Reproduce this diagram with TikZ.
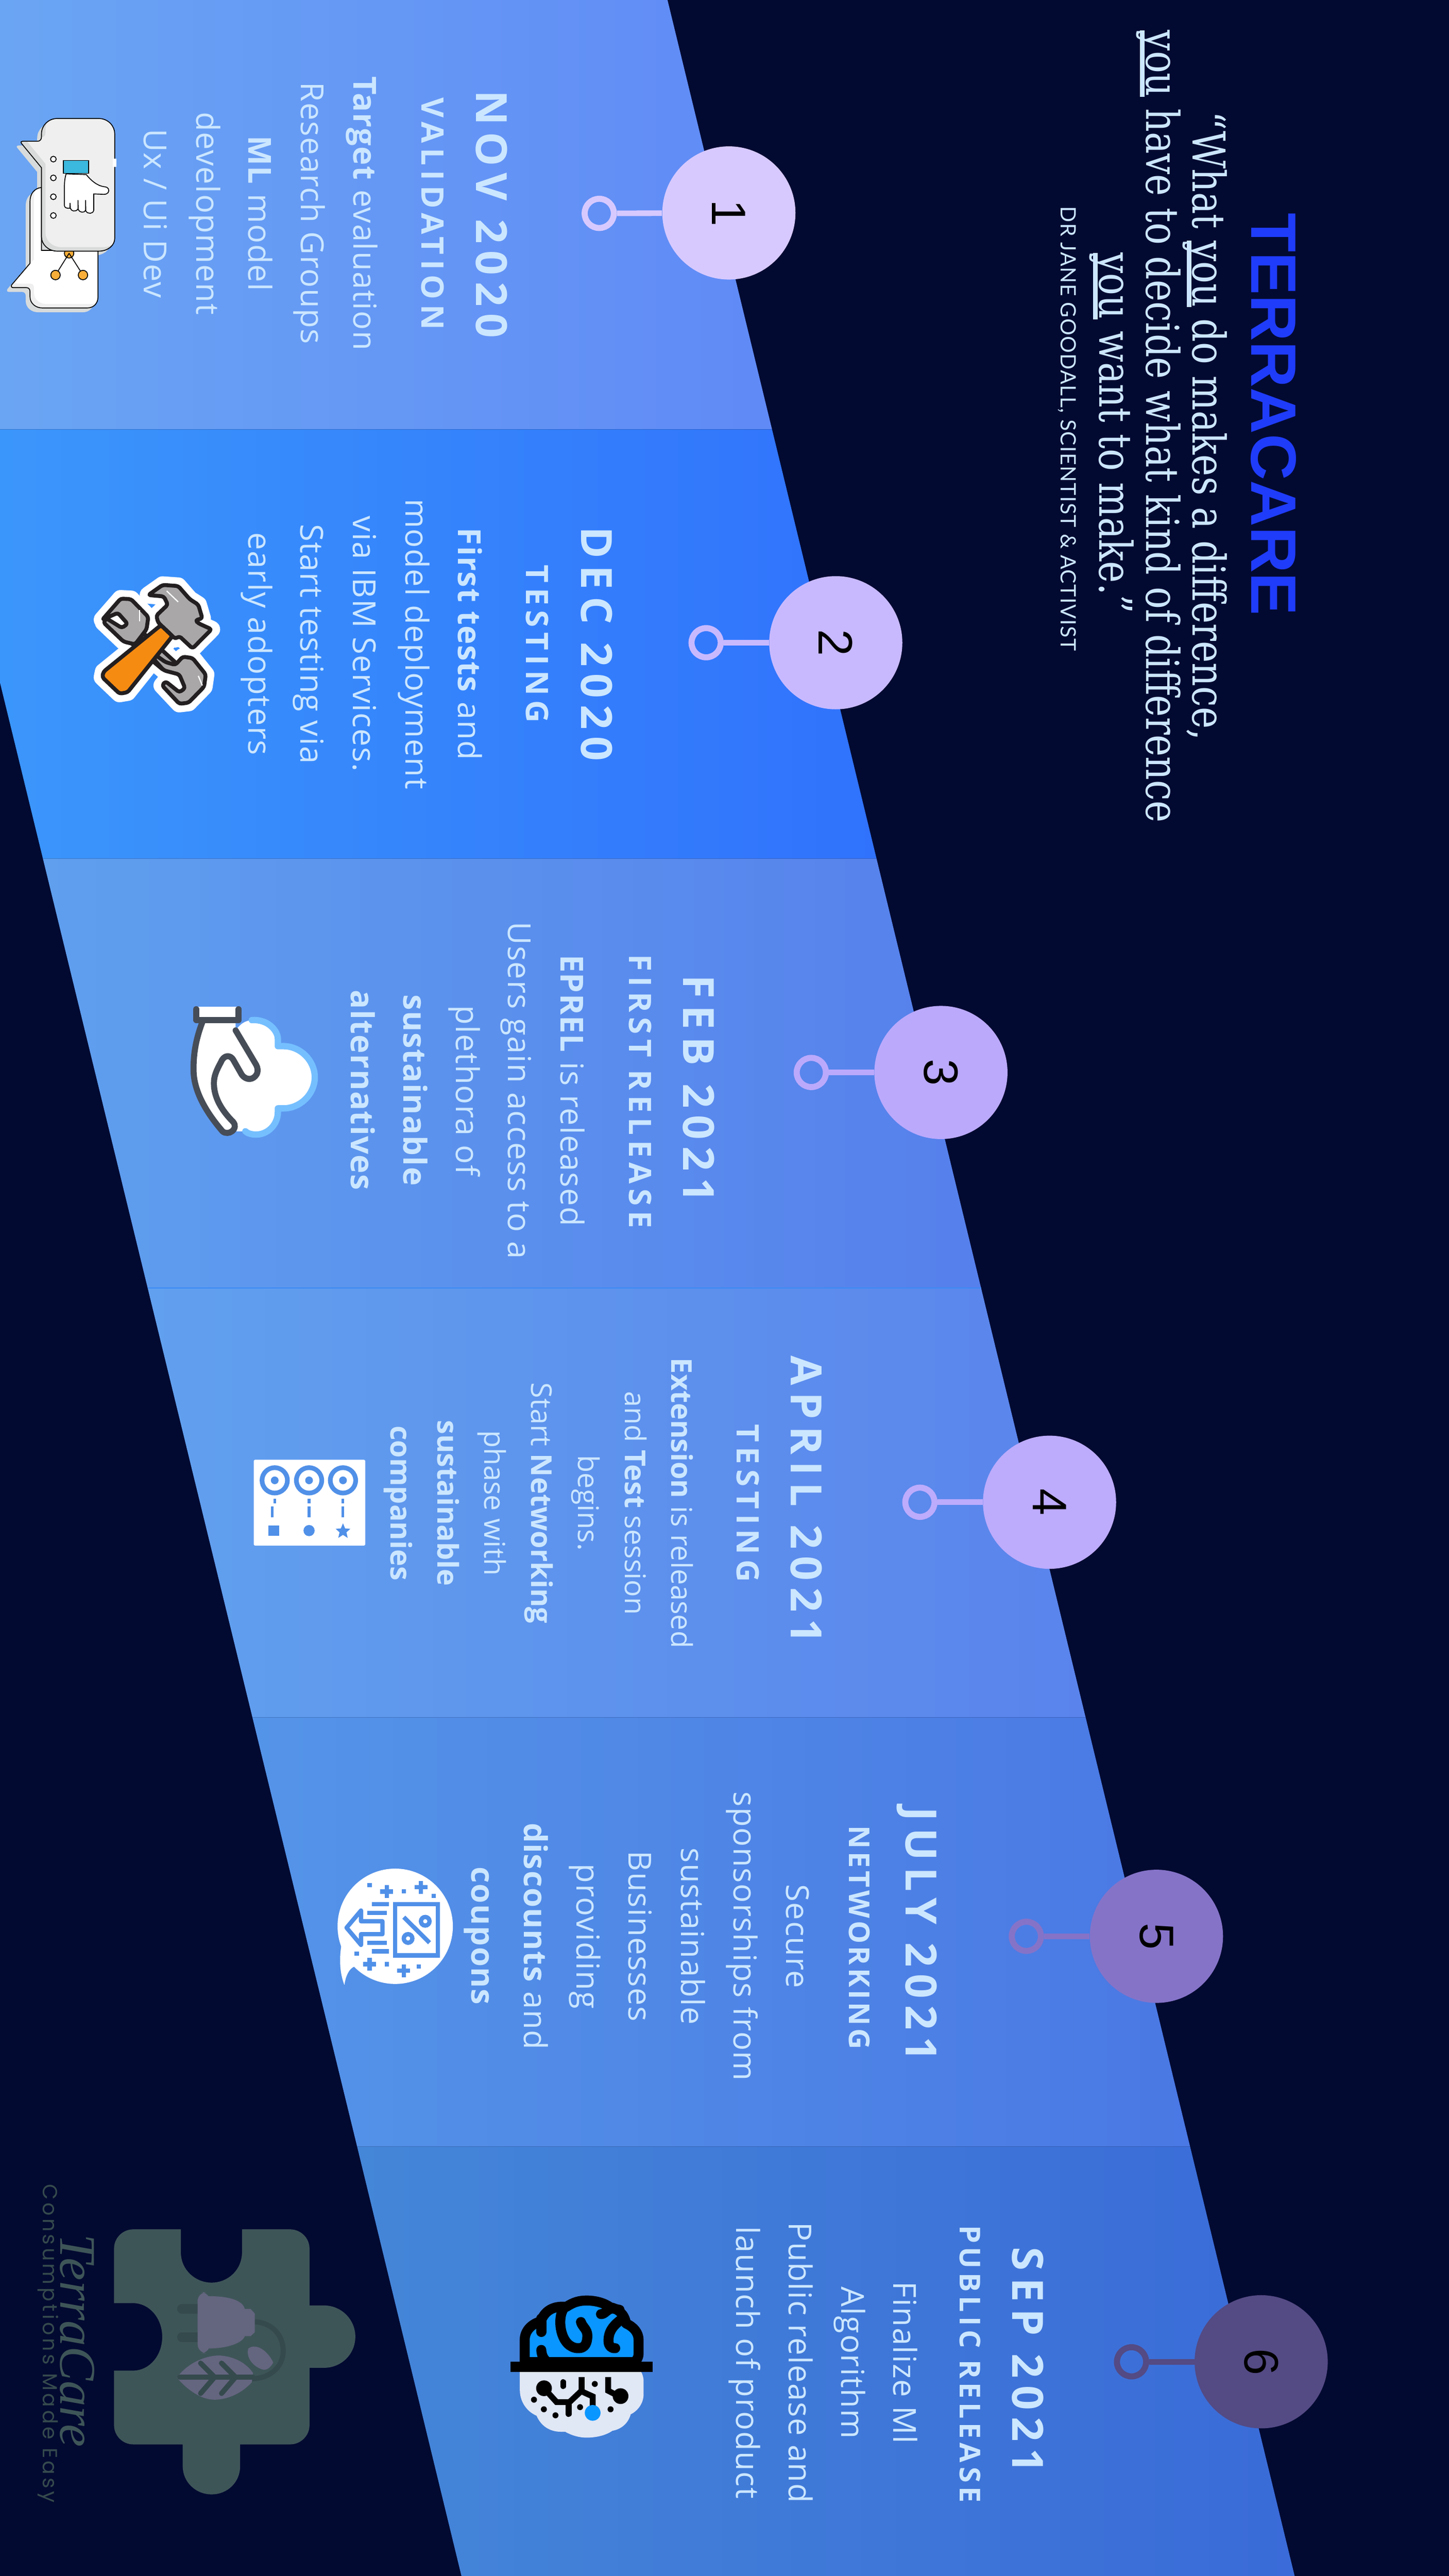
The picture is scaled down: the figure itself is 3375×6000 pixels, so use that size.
\documentclass[tikz,border=0pt]{standalone}
\usepackage{fontspec}
\usepackage{xcolor}
\usetikzlibrary{positioning}
\setmainfont[LetterSpace=2.5]{Open Sans}
\newfontfamily\tightfont{Open Sans}
\newfontfamily\datefont[LetterSpace=16]{Open Sans}
\newfontfamily\netfont[LetterSpace=10]{Open Sans}
\newfontfamily\publicfont[LetterSpace=14]{Open Sans}
\newfontfamily\quotefont[FakeStretch=0.81]{DejaVu Serif}
\newfontfamily\titlefont{Liberation Sans}
\newfontfamily\creditfont[LetterSpace=3.5]{Lato}
\newfontfamily\brandfont[LetterSpace=14]{Poppins}
\newfontfamily\signfont{Liberation Serif}
\definecolor{night}{HTML}{030A31}
\definecolor{pale}{HTML}{CBE6FF}
\definecolor{stopa}{HTML}{D7C9FE}
\definecolor{stopb}{HTML}{C8B9FE}
\definecolor{stopc}{HTML}{BBA9FC}
\definecolor{stopd}{HTML}{BDABFC}
\definecolor{stope}{HTML}{8573C8}
\definecolor{stopf}{HTML}{544A84}
\definecolor{puzzle}{HTML}{3E5558}
\definecolor{puzzledark}{HTML}{354A4D}
\definecolor{plug}{HTML}{64657F}
\definecolor{iconblue}{HTML}{5090E8}
\definecolor{toolgrey}{HTML}{A9A7A8}
\definecolor{tooldark}{HTML}{231F20}
\definecolor{handdark}{HTML}{474D57}
\definecolor{brainblue}{HTML}{0A96FF}
\tikzset{
  stopcircle/.style={circle,minimum size=3.1cm,inner sep=0pt,rotate=-90,text=black,font=\titlefont\fontsize{32}{32}\selectfont},
  ringnode/.style={circle,minimum size=0.68cm,inner sep=0pt,line width=4pt,draw},
  stem/.style={line width=3.7pt},
  datelabel/.style={rotate=-90,text=pale,font=\datefont\bfseries\fontsize{28.5}{30}\selectfont},
  phaselabel/.style={rotate=-90,text=pale,font=\datefont\bfseries\fontsize{20.5}{22}\selectfont},
  netlabel/.style={rotate=-90,text=pale,font=\netfont\bfseries\fontsize{19}{21}\selectfont},
  publiclabel/.style={rotate=-90,text=pale,font=\publicfont\bfseries\fontsize{19}{21}\selectfont},
  notelabel/.style={rotate=-90,text=pale,align=center,font=\fontsize{21}{34.7}\selectfont},
  tightnote/.style={rotate=-90,text=pale,align=center,font=\tightfont\fontsize{19}{31}\selectfont},
  quoteline/.style={rotate=-90,anchor=base,text=pale,font=\quotefont\fontsize{30}{32}\selectfont},
  toolpiece/.style={fill=toolgrey,draw=tooldark,line width=2.6pt,rounded corners=1.5pt,line join=round},
  toolhalo/.style={fill=white,draw=white,line width=11.4pt,line join=round},
  darkstroke/.style={draw=handdark,line width=4pt,line cap=round,line join=round},
  blackline/.style={draw=black,line width=0.57pt},
  brainstroke/.style={draw=black,line width=6.6pt,line cap=round,line join=round},
  circuit/.style={draw=black,line width=3.9pt},
  iconline/.style={draw=iconblue,line width=2.85pt},
  veinline/.style={draw=puzzledark,line width=3.4pt,line cap=round}
}
\newcommand{\youmark}[1]{\setbox0=\hbox{#1}\rlap{\raisebox{-4.2pt}{\rule{\wd0}{3.1pt}}}\box0\relax}
\newcommand{\smallbubble}{(290,620) .. controls (240,625) and (210,665) .. (210,715) -- (210,1150) -- (82,1300) .. controls (75,1312) and (82,1320) .. (92,1320) -- (185,1320) .. controls (200,1320) and (210,1330) .. (210,1350) -- (210,1385) .. controls (210,1430) and (250,1462) .. (295,1462) -- (610,1462) .. controls (655,1462) and (685,1430) .. (685,1385) -- (685,1060) -- (290,1060) -- cycle}
\newcommand{\bigbubble}{(400,138) -- (690,138) .. controls (755,138) and (802,190) .. (802,245) -- (802,975) .. controls (802,1025) and (755,1065) .. (690,1065) -- (400,1065) .. controls (340,1065) and (290,1020) .. (290,965) -- (290,482) -- (150,312) .. controls (143,302) and (150,297) .. (158,297) -- (262,297) .. controls (280,297) and (290,285) .. (290,265) -- (290,245) .. controls (290,185) and (340,138) .. (400,138) -- cycle}
\newcommand{\toolhead}{(258,605) -- (283,568) -- (310,572) -- (330,620) -- (345,640) -- (352,690) -- (340,697) -- (345,708) -- (368,730) -- (335,800) -- (312,755) -- (305,765) -- (275,705) -- (272,680) -- (292,640) -- (285,610) -- cycle}
\newcommand{\toolupper}{(178,695) -- (210,618) -- (228,620) -- (258,685) -- (255,730) -- (235,785) -- (215,775) -- (180,705) -- (185,690) -- (212,725) -- (222,710) -- (205,670) -- cycle}
\newcommand{\toollower}{(268,820) -- (288,850) -- (305,860) -- (318,830) -- (335,835) -- (358,895) -- (355,940) -- (328,998) -- (312,1002) -- (282,935) -- (288,920) -- (312,960) -- (322,945) -- (312,895) -- (285,880) -- (268,840) -- cycle}
\newcommand{\toolshaft}{(225,775) -- (250,745) -- (310,860) -- (285,880) -- cycle}
\newcommand{\toolhandle}{(280,715) -- (300,755) -- (222,960) -- (208,965) -- (178,905) -- (180,885) -- cycle}
\begin{document}
\begin{tikzpicture}[x=0.01cm,y=-0.01cm]
\useasboundingbox (0,0) rectangle (3375,6000);
\fill[night] (0,0) rectangle (3375,6000);
\shade[left color={rgb,255:red,106;green,165;blue,243},right color={rgb,255:red,96;green,138;blue,246}] (0,0) -- (1555,0) -- (1798.5,1000) -- (0,1000) -- cycle;
\shade[left color={rgb,255:red,59;green,150;blue,251},right color={rgb,255:red,48;green,114;blue,252}] (0,1000) -- (1798.5,1000) -- (2042,2000) -- (100,2000) -- (0,1590) -- cycle;
\shade[left color={rgb,255:red,95;green,159;blue,238},right color={rgb,255:red,86;green,128;blue,236}] (100,2000) -- (2042,2000) -- (2285.5,3000) -- (344,3000) -- cycle;
\shade[left color={rgb,255:red,97;green,160;blue,238},right color={rgb,255:red,90;green,132;blue,236}] (344,3000) -- (2285.5,3000) -- (2529,4000) -- (588,4000) -- cycle;
\shade[left color={rgb,255:red,84;green,148;blue,232},right color={rgb,255:red,74;green,120;blue,228}] (588,4000) -- (2529,4000) -- (2772.5,5000) -- (832,5000) -- cycle;
\shade[left color={rgb,255:red,68;green,134;blue,216},right color={rgb,255:red,58;green,107;blue,216}] (832,5000) -- (2772.5,5000) -- (3016,6000) -- (1075,6000) -- cycle;
\draw[color={rgb,255:red,58;green,138;blue,245},line width=1pt] (344,3000) -- (2285.5,3000);

\node[rotate=-90,text={rgb,255:red,31;green,60;blue,250},font=\titlefont\bfseries\fontsize{42.5}{45}\selectfont] (title) at (2967,965) {TERRACARE};
\node[quoteline] (quotea) at (2779,992) {“What \youmark{you} do makes a difference,};
\node[quoteline] (quoteb) at (2670,993) {\youmark{you} have to decide what kind of difference};
\node[quoteline] (quotec) at (2561,1009) {\youmark{you} want to make.”};
\node[rotate=-90,text=pale,font=\creditfont\fontsize{14}{16}\selectfont] (credit) at (2486,998) {DR JANE GOODALL, SCIENTIST \& ACTIVIST};

\node[stopcircle,fill=stopa] (stop1) at (1698,496) {1};
\node[stopcircle,fill=stopb] (stop2) at (1947,1497) {2};
\node[stopcircle,fill=stopc] (stop3) at (2192,2498) {3};
\node[stopcircle,fill=stopd] (stop4) at (2445,3499) {4};
\node[stopcircle,fill=stope] (stop5) at (2694,4510) {5};
\node[stopcircle,fill=stopf] (stop6) at (2938,5501) {6};
\node[ringnode,draw=stopa] (ring1) at (1396,497) {};
\node[ringnode,draw=stopb] (ring2) at (1645,1497) {};
\node[ringnode,draw=stopc] (ring3) at (1890,2498) {};
\node[ringnode,draw=stopd] (ring4) at (2143,3499) {};
\node[ringnode,draw=stope] (ring5) at (2391,4510) {};
\node[ringnode,draw=stopf] (ring6) at (2636,5501) {};
\draw[stem,stopa] (ring1) -- (stop1);
\draw[stem,stopb] (ring2) -- (stop2);
\draw[stem,stopc] (ring3) -- (stop3);
\draw[stem,stopd] (ring4) -- (stop4);
\draw[stem,stope] (ring5) -- (stop5);
\draw[stem,stopf] (ring6) -- (stop6);

\node[datelabel] (date1) at (1145,499) {NOV 2020};
\node[phaselabel] (phase1) at (1008,498) {VALIDATION};
\node[notelabel] (note1) at (607,497) {\textbf{Target} evaluation\\Research Groups\\\textbf{ML} model\\development\\Ux / Ui Dev};
\node[datelabel] (date2) at (1390,1500) {DEC 2020};
\node[phaselabel] (phase2) at (1252,1500) {TESTING};
\node[notelabel] (note2) at (842,1500) {\textbf{First tests} and\\model deployment\\via IBM Services.\\Start testing via\\early adopters};
\node[datelabel] (date3) at (1628,2536) {FEB 2021};
\node[phaselabel] (phase3) at (1492,2542) {FIRST RELEASE};
\node[notelabel] (note3) at (1090,2540) {\textbf{EPREL} is released\\Users gain access to a\\plethora of\\\textbf{sustainable}\\\textbf{alternatives}};
\node[datelabel] (date4) at (1879,3493) {APRIL 2021};
\node[phaselabel] (phase4) at (1742,3501) {TESTING};
\node[tightnote] (note4) at (1255,3501) {\textbf{Extension} is released\\and \textbf{Test} session\\begins.\\Start \textbf{Networking}\\phase with\\\textbf{sustainable}\\\textbf{companies}};
\node[datelabel] (date5) at (2136,4505) {JULY 2021};
\node[netlabel] (phase5) at (2002,4513) {NETWORKING};
\node[notelabel] (note5) at (1483,4510) {Secure\\sponsorships from\\sustainable\\Businesses\\providing\\\textbf{discounts} and\\\textbf{coupons}};
\node[datelabel] (date6) at (2394,5497) {SEP 2021};
\node[publiclabel] (phase6) at (2260,5506) {PUBLIC RELEASE};
\node[notelabel] (note6) at (1918,5503) {Finalize Ml\\Algorithm\\Public release and\\launch of product};

\begin{scope}[shift={(0,230)},scale=0.3333]
\fill[shift={(-30,30)},color={rgb,255:red,216;green,219;blue,219}] \smallbubble;
\fill[shift={(-30,30)},color={rgb,255:red,216;green,219;blue,219}] \bigbubble;
\begin{scope}
\clip \smallbubble;
\fill[color={rgb,255:red,239;green,239;blue,239}] \smallbubble;
\fill[white,shift={(28,-28)}] \smallbubble;
\end{scope}
\draw[black,line width=0.57pt] \smallbubble;
\draw[blackline,fill={rgb,255:red,248;green,174;blue,56}] (483,1080) circle (33);
\draw[blackline] (483,1080) -- (388,1232);
\draw[blackline] (483,1080) -- (580,1232);
\draw[blackline,fill={rgb,255:red,248;green,174;blue,56}] (388,1232) circle (33);
\draw[blackline,fill={rgb,255:red,248;green,174;blue,56}] (580,1232) circle (33);
\begin{scope}
\clip \bigbubble;
\fill[color={rgb,255:red,217;green,218;blue,218}] \bigbubble;
\fill[color={rgb,255:red,239;green,239;blue,239},shift={(28,-28)}] \bigbubble;
\end{scope}
\draw[black,line width=0.57pt] \bigbubble;
\fill[white] (790,420) rectangle (812,475);
\draw[blackline,fill=white] (373,422) circle (20);
\draw[blackline,fill=white] (373,553) circle (20);
\draw[blackline,fill=white] (373,685) circle (20);
\draw[blackline,fill=white] (373,816) circle (20);
\draw[blackline,fill=white] (462,525) .. controls (452,560) and (450,590) .. (450,620) -- (450,745) .. controls (450,760) and (465,768) .. (488,765) -- (490,728) -- (492,765) .. controls (495,785) and (530,795) .. (545,770) -- (545,708) -- (547,775) .. controls (555,795) and (590,800) .. (598,780) -- (598,708) -- (600,785) .. controls (615,808) and (650,805) .. (655,780) -- (655,665) -- (725,668) .. controls (755,668) and (765,650) .. (758,630) .. controls (755,622) and (745,617) .. (730,615) .. controls (680,610) and (635,570) .. (603,530) -- cycle;
\draw[blackline,fill={rgb,255:red,60;green,185;blue,222}] (442,432) rectangle (620,522);
\end{scope}

\begin{scope}[shift={(0,1000)},xscale=1.339,yscale=0.638]
\path[toolhalo] \toolhead;
\path[toolhalo] \toolupper;
\path[toolhalo] \toollower;
\path[toolhalo] \toolshaft;
\path[toolhalo] \toolhandle;
\path[toolpiece] \toolshaft;
\path[toolpiece] \toolhead;
\path[toolpiece] \toolupper;
\path[toolpiece] \toollower;
\path[toolpiece,fill={rgb,255:red,246;green,139;blue,18}] \toolhandle;
\draw[white,line width=0.8pt] (290,590) -- (310,630);
\draw[white,line width=0.8pt] (243,660) -- (243,700);
\draw[white,line width=0.8pt] (345,900) -- (352,935);
\end{scope}

\begin{scope}[shift={(400,2300)},scale=0.3333]
\fill[white] (447,300) .. controls (490,240) and (530,225) .. (590,228) .. controls (670,232) and (742,300) .. (742,360) -- (742,410) -- (780,410) .. controls (900,410) and (1000,510) .. (1000,628) .. controls (1000,745) and (900,845) .. (780,845) -- (742,845) -- (742,870) .. controls (742,960) and (670,1028) .. (590,1028) .. controls (560,1028) and (530,1020) .. (515,1005) -- (355,1005) .. controls (230,860) and (158,720) .. (153,590) .. controls (150,480) and (165,370) .. (215,240) -- (447,240) -- cycle;
\draw[color={rgb,255:red,117;green,191;blue,255},line width=4.2pt,line cap=round,line join=round] (560,228) .. controls (670,220) and (742,300) .. (742,360) -- (742,410) -- (780,410) .. controls (900,410) and (1000,510) .. (1000,628) .. controls (1000,745) and (900,845) .. (780,845) -- (742,845) -- (742,870) .. controls (742,960) and (670,1028) .. (590,1028) .. controls (560,1028) and (530,1020) .. (515,1005);
\fill[white] (172,133) rectangle (470,225);
\path[darkstroke] (172,152) -- (172,227) -- (468,227) -- (468,152);
\path[darkstroke] (215,240) .. controls (165,370) and (150,480) .. (153,590) .. controls (158,720) and (230,860) .. (355,1005) .. controls (395,1040) and (470,990) .. (430,940) .. controls (350,860) and (295,770) .. (295,670) .. controls (295,620) and (310,585) .. (345,520) .. controls (365,470) and (410,470) .. (430,505) -- (490,610) .. controls (520,650) and (570,650) .. (595,605) .. controls (605,580) and (600,560) .. (590,540) -- (447,300);
\end{scope}

\fill[white,rounded corners=1pt] (591,3400) rectangle (851,3600);
\fill[iconblue] (640,3448) circle (35);
\fill[iconblue] (720,3448) circle (35);
\fill[iconblue] (799,3448) circle (35);
\fill[white] (640,3448) circle (24);
\fill[white] (720,3448) circle (24);
\fill[white] (799,3448) circle (24);
\fill[iconblue] (640,3448) circle (9);
\fill[iconblue] (720,3448) circle (9);
\fill[iconblue] (799,3448) circle (9);
\draw[iconline,line width=1.8pt] (640,3491) -- (640,3501);
\draw[iconline,line width=1.8pt] (720,3491) -- (720,3501);
\draw[iconline,line width=1.8pt] (799,3491) -- (799,3501);
\draw[iconline,line width=1.8pt] (634,3509) -- (634,3534);
\draw[iconline,line width=1.8pt] (720,3509) -- (720,3534);
\draw[iconline,line width=1.8pt] (799,3509) -- (799,3534);
\fill[iconblue] (625,3553) rectangle (650,3577);
\fill[iconblue] (720,3565) circle (13);
\fill[iconblue] (799,3548) -- (804,3560) -- (816,3561) -- (807,3569) -- (810,3582) -- (799,3575) -- (788,3582) -- (791,3569) -- (782,3561) -- (794,3560) -- cycle;

\begin{scope}[shift={(750,4320)},scale=0.3333]
\fill[white] (512,500) circle (403);
\fill[white] (135,640) .. controls (120,730) and (125,830) .. (157,910) .. controls (165,850) and (190,790) .. (232,780) -- (400,700) -- cycle;
\fill[iconblue] (318,197) rectangle (348,227);
\fill[iconblue] (557,241) rectangle (587,271);
\fill[iconblue] (766,272) rectangle (796,302);
\fill[iconblue] (228,675) rectangle (258,705);
\fill[iconblue] (438,750) rectangle (468,780);
\fill[iconblue] (662,765) rectangle (692,795);
\draw[iconline] (408,257) -- (498,257);
\draw[iconline] (453,212) -- (453,302);
\draw[iconline] (647,227) -- (737,227);
\draw[iconline] (692,182) -- (692,272);
\draw[iconline] (288,765) -- (378,765);
\draw[iconline] (333,720) -- (333,810);
\draw[iconline] (527,810) -- (617,810);
\draw[iconline] (572,765) -- (572,855);
\draw[iconline] (512,346) rectangle (811,704);
\draw[iconline] (572,436) -- (752,615);
\draw[iconline] (722,465) circle (30);
\draw[iconline] (602,585) circle (30);
\fill[iconblue] (348,331) rectangle (468,361);
\fill[iconblue] (318,391) rectangle (453,421);
\fill[iconblue] (318,600) rectangle (453,630);
\fill[iconblue] (348,660) rectangle (468,690);
\draw[iconline,line join=round] (172,510) -- (273,390) -- (273,465) -- (423,465) -- (423,555) -- (273,555) -- (273,630) -- cycle;
\end{scope}

\begin{scope}[shift={(1150,5300)},scale=0.3333]
\fill[color={rgb,255:red,224;green,231;blue,245}] (183,672) -- (183,800) .. controls (183,880) and (230,950) .. (300,980) .. controls (330,1050) and (390,1092) .. (470,1092) -- (500,1092) .. controls (550,1120) and (600,1133) .. (650,1133) .. controls (710,1133) and (780,1120) .. (830,1085) .. controls (890,1075) and (940,1035) .. (958,970) .. controls (1010,945) and (1048,890) .. (1048,830) -- (1048,740) .. controls (1048,710) and (1040,690) .. (1030,672) -- cycle;
\path[brainstroke,fill=brainblue] (217,605) -- (217,450) .. controls (217,390) and (260,340) .. (330,320) .. controls (355,250) and (410,218) .. (480,218) -- (510,218) .. controls (560,185) and (600,175) .. (650,175) .. controls (710,175) and (770,190) .. (815,222) .. controls (870,232) and (915,270) .. (925,335) .. controls (980,360) and (1013,400) .. (1013,450) -- (1013,545) .. controls (1013,575) and (1000,590) .. (985,605) -- cycle;
\path[brainstroke] (333,300) -- (333,395);
\path[brainstroke] (333,520) .. controls (335,570) and (360,600) .. (400,620);
\path[brainstroke] (490,230) .. controls (440,300) and (465,505) .. (590,508) .. controls (640,510) and (655,470) .. (655,420) .. controls (655,375) and (620,360) .. (610,325);
\path[brainstroke] (750,270) .. controls (780,270) and (790,235) .. (830,230) -- (880,240);
\path[brainstroke] (900,300) .. controls (850,340) and (800,380) .. (803,460) .. controls (803,490) and (820,510) .. (850,508);
\fill[black] (118,603) rectangle (1111,673);
\fill[black] (352,788) circle (55);
\fill[black] (887,843) circle (55);
\fill[black] (282,868) circle (21);
\fill[black] (351,935) circle (21);
\fill[black] (432,977) circle (21);
\fill[black] (604,920) circle (21);
\fill[black] (707,758) circle (21);
\fill[black] (817,935) circle (21);
\draw[circuit,line cap=round] (486,745) -- (486,773);
\draw[circuit] (352,788) -- (440,885) -- (530,885) -- (615,805);
\draw[circuit] (615,710) -- (615,810) -- (692,845) -- (692,920);
\draw[circuit,line cap=round] (524,885) -- (524,968);
\draw[circuit] (800,710) -- (800,805) -- (887,850);
\fill[brainblue] (692,960) circle (55);
\end{scope}

\begin{scope}[shift={(50,5050)},scale=0.542]
\fill[puzzle] (480,263) -- (685,263) -- (685,360) .. controls (685,440) and (750,492) .. (817,492) .. controls (885,492) and (948,440) .. (948,360) -- (948,263) -- (1155,263) .. controls (1200,263) and (1238,300) .. (1238,345) -- (1238,590) -- (1300,590) .. controls (1375,590) and (1435,650) .. (1435,724) .. controls (1435,800) and (1375,858) .. (1300,858) -- (1238,858) -- (1238,1105) .. controls (1238,1150) and (1200,1187) .. (1155,1187) -- (940,1187) -- (940,1280) .. controls (940,1350) and (885,1402) .. (817,1402) .. controls (750,1402) and (693,1350) .. (693,1280) -- (693,1187) -- (480,1187) .. controls (435,1187) and (398,1150) .. (398,1105) -- (398,870) -- (480,870) .. controls (550,870) and (605,805) .. (605,725) .. controls (605,645) and (550,580) .. (480,580) -- (398,580) -- (398,345) .. controls (398,300) and (435,263) .. (480,263) -- cycle;
\draw[puzzledark,line width=6.5pt,line cap=round] (690,604) -- (770,604);
\draw[puzzledark,line width=6.5pt,line cap=round] (690,726) -- (770,726);
\draw[puzzledark,line width=3.4pt] (1003,660) .. controls (1080,665) and (1125,720) .. (1125,785) .. controls (1125,860) and (1060,905) .. (990,905);
\fill[plug,rounded corners=6pt] (757,533) rectangle (810,795);
\fill[plug] (800,550) .. controls (900,550) and (950,570) .. (960,605) -- (985,605) -- (1003,625) -- (1003,705) -- (985,722) -- (960,722) .. controls (950,750) and (890,775) .. (800,775) -- cycle;
\fill[plug] (668,900) .. controls (720,830) and (800,805) .. (850,805) .. controls (930,810) and (975,850) .. (995,880) -- (990,920) .. controls (930,985) and (860,995) .. (830,995) .. controls (770,995) and (710,950) .. (668,900) -- cycle;
\fill[plug] (975,775) .. controls (1000,755) and (1050,770) .. (1082,835) .. controls (1070,860) and (1050,870) .. (1035,865) .. controls (990,850) and (965,810) .. (975,775) -- cycle;
\draw[veinline] (680,898) -- (995,898);
\draw[veinline] (770,838) -- (830,898);
\draw[veinline] (860,838) -- (920,898);
\draw[veinline] (770,968) -- (830,898);
\draw[veinline] (860,968) -- (920,898);
\end{scope}

\node[rotate=-90,text=puzzle,font=\signfont\itshape\fontsize{34}{36}\selectfont] (signature) at (180,5452) {TerraCare};
\node[rotate=-90,text=puzzledark,font=\brandfont\fontsize{13.5}{15}\selectfont] (tagline) at (112,5458) {Consumptions Made Easy};
\end{tikzpicture}
\end{document}
